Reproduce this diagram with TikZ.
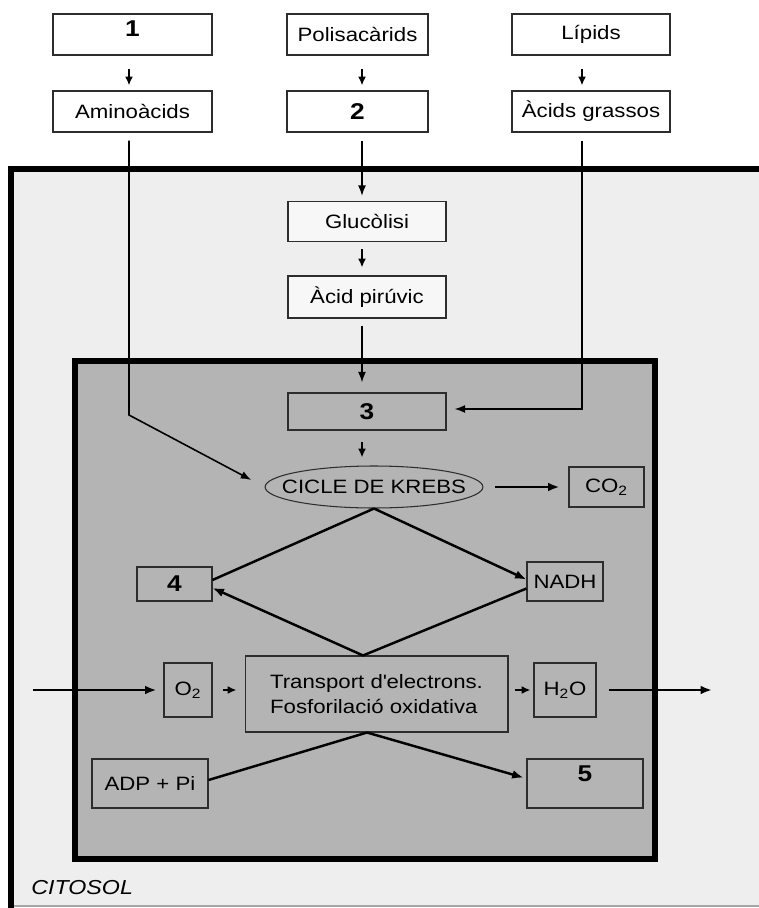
\documentclass[tikz,border=0pt]{standalone}
\usepackage{fontspec}
\setmainfont[FakeStretch=1.15]{Liberation Sans}
\usetikzlibrary{arrows.meta,shapes.geometric,positioning}

\definecolor{cytosolgray}{RGB}{238,238,238}
\definecolor{mitogray}{RGB}{180,180,180}
\definecolor{edgegray}{RGB}{45,45,45}

\tikzset{
    box/.style={draw=edgegray, line width=0.6pt, inner sep=0pt,
        font=\fontsize{11}{13}\selectfont},
    whitebox/.style={box, fill=white},
    palebox/.style={box, fill=black!3},
    numbox/.style={box, font=\fontsize{13}{14}\selectfont\bfseries},
    thinline/.style={line width=0.9pt, -{Latex[length=6pt,width=4.5pt]}},
    shortarrow/.style={line width=1.1pt, -{Latex[length=5pt,width=4.5pt]}},
    thickline/.style={line width=1.4pt},
    thickarrow/.style={thickline, -{Latex[length=6.5pt,width=5pt]}}
}

\begin{document}
\begin{tikzpicture}[x=0.02cm, y=-0.02cm]
        \useasboundingbox (0,0) rectangle (758,908);

        % citosol i mitocondri
        \fill[cytosolgray] (11,169) rectangle (760,906);
        \draw[black!35, line width=0.6pt] (11,906) -- (760,906);
        \draw[line width=3.6pt] (760,169) -- (11,169) -- (11,910);
        \draw[line width=3.4pt, fill=mitogray] (75,361) rectangle (655,859);
        \node[inner sep=0pt, anchor=base west, font=\fontsize{11.5}{13}\selectfont\itshape] at (31,894)(citosol){CITOSOL};

        \node[whitebox, numbox, minimum width=3.18cm, minimum height=0.82cm, text depth=7pt] at (132.5,34.5)(n1){1};
        \node[whitebox, minimum width=2.82cm, minimum height=0.82cm] at (357.5,34.5)(polis){Polisacàrids};
        \node[whitebox, minimum width=3.16cm, minimum height=0.82cm] at (591,34.5)(lipids){Lípids};
        \node[whitebox, minimum width=3.18cm, minimum height=0.82cm] at (132.5,111.5)(amino){Aminoàcids};
        \node[whitebox, numbox, minimum width=2.82cm, minimum height=0.82cm] at (357.5,111.5)(n2){2};
        \node[whitebox, minimum width=3.16cm, minimum height=0.82cm] at (591,111.5)(acids){Àcids grassos};

        \node[palebox, minimum width=3.16cm, minimum height=0.8cm] at (367,221.5)(gluco){Glucòlisi};
        \node[palebox, minimum width=3.16cm, minimum height=0.84cm] at (367,297)(piruvic){Àcid pirúvic};

        \node[numbox, minimum width=3.16cm, minimum height=0.74cm] at (367,411.5)(n3){3};
        \node[box, ellipse, inner xsep=-0.3cm, inner ysep=0pt, minimum width=4.28cm, minimum height=0.84cm] at (374,487)(krebs){CICLE DE KREBS};
        \node[box, minimum width=1.5cm, minimum height=0.8cm] at (606.5,487)(co2){CO\textsubscript{2}};
        \node[numbox, minimum width=1.5cm, minimum height=0.68cm] at (174.5,584)(four){4};
        \node[box, minimum width=1.52cm, minimum height=0.78cm] at (565,581.5)(nadh){NADH};
        \node[box, minimum width=0.96cm, minimum height=1.08cm] at (188,690)(o2){O\textsubscript{2}};
        \node[box, align=left, minimum width=5.26cm, minimum height=1.52cm,
            font=\fontsize{11}{14.6}\selectfont] at (376.5,694)(transport){Transport d\textquotesingle electrons.\\Fosforilació oxidativa};
        \node[box, minimum width=1.24cm, minimum height=1.08cm] at (565,690)(h2o){H\textsubscript{2}O};
        \node[box, minimum width=2.32cm, minimum height=0.98cm] at (150,783.5)(adp){ADP + Pi};
        \node[numbox, minimum width=2.32cm, minimum height=0.98cm, text depth=11pt] at (585,783.5)(five){5};

        \coordinate (aminoline) at (129,0);
        \coordinate (midline) at (362,0);
        \coordinate (acidline) at (582,0);
        \coordinate (aminobend) at (129,415);
        \coordinate (acidbend) at (582,409);
        \coordinate (entry) at (33,690);
        \coordinate (exit) at (712,690);

        \path[shortarrow, shorten <=0.26cm, shorten >=0.1cm]
        (n1.south -| aminoline) edge (amino.north -| aminoline)
        (polis.south -| midline) edge (n2.north -| midline)
        (lipids.south -| acidline) edge (acids.north -| acidline)
        ;

        \draw[thinline, shorten <=0.16cm, shorten >=0.1cm] (n2.south -| midline) -- (gluco.north -| midline);
        \draw[shortarrow, shorten <=0.14cm, shorten >=0.16cm] (gluco.south -| midline) -- (piruvic.north -| midline);
        \draw[thinline, shorten <=0.14cm, shorten >=0.2cm] (piruvic.south -| midline) -- (n3.north -| midline);
        \draw[thinline, shorten <=0.16cm, shorten >=0.3cm] (amino.south -| aminoline) -- (aminobend) -- (krebs.west);
        \draw[thinline, shorten <=0.16cm, shorten >=0.16cm] (acids.south -| acidline) -- (acidbend) -- (acidbend -| n3.east);
        \draw[shortarrow, shorten <=0.22cm, shorten >=0.16cm] (n3.south -| midline) -- (krebs.north -| midline);
        \draw[thickarrow, shorten <=0.24cm, shorten >=0.18cm] (krebs.east) -- (co2.west);

        \draw[thickline] (krebs.south) -- ([yshift=0.08cm]four.east);
        \draw[thickarrow] (krebs.south) -- ([yshift=0.04cm]nadh.west);
        \draw[thickarrow] ([xshift=-0.27cm]transport.north) -- ([yshift=-0.08cm]four.east);
        \draw[thickline] ([yshift=-0.14cm]nadh.west) -- ([xshift=-0.27cm]transport.north);

        \draw[thickarrow, shorten >=0.14cm] (entry) -- (o2.west);
        \draw[shortarrow, shorten <=0.2cm, shorten >=0.16cm] (o2.east) -- (o2.east -| transport.west);
        \draw[shortarrow, shorten <=0.12cm, shorten >=0.06cm] (h2o.west -| transport.east) -- (h2o.west);
        \draw[thickarrow, shorten <=0.24cm] (h2o.east) -- (exit);

        \draw[thickline] ([yshift=0.07cm]adp.east) -- ([xshift=-0.19cm]transport.south);
        \draw[thickarrow, shorten >=0.06cm] ([xshift=-0.19cm]transport.south) -- ([yshift=0.1cm]five.west);
\end{tikzpicture}
\end{document}
